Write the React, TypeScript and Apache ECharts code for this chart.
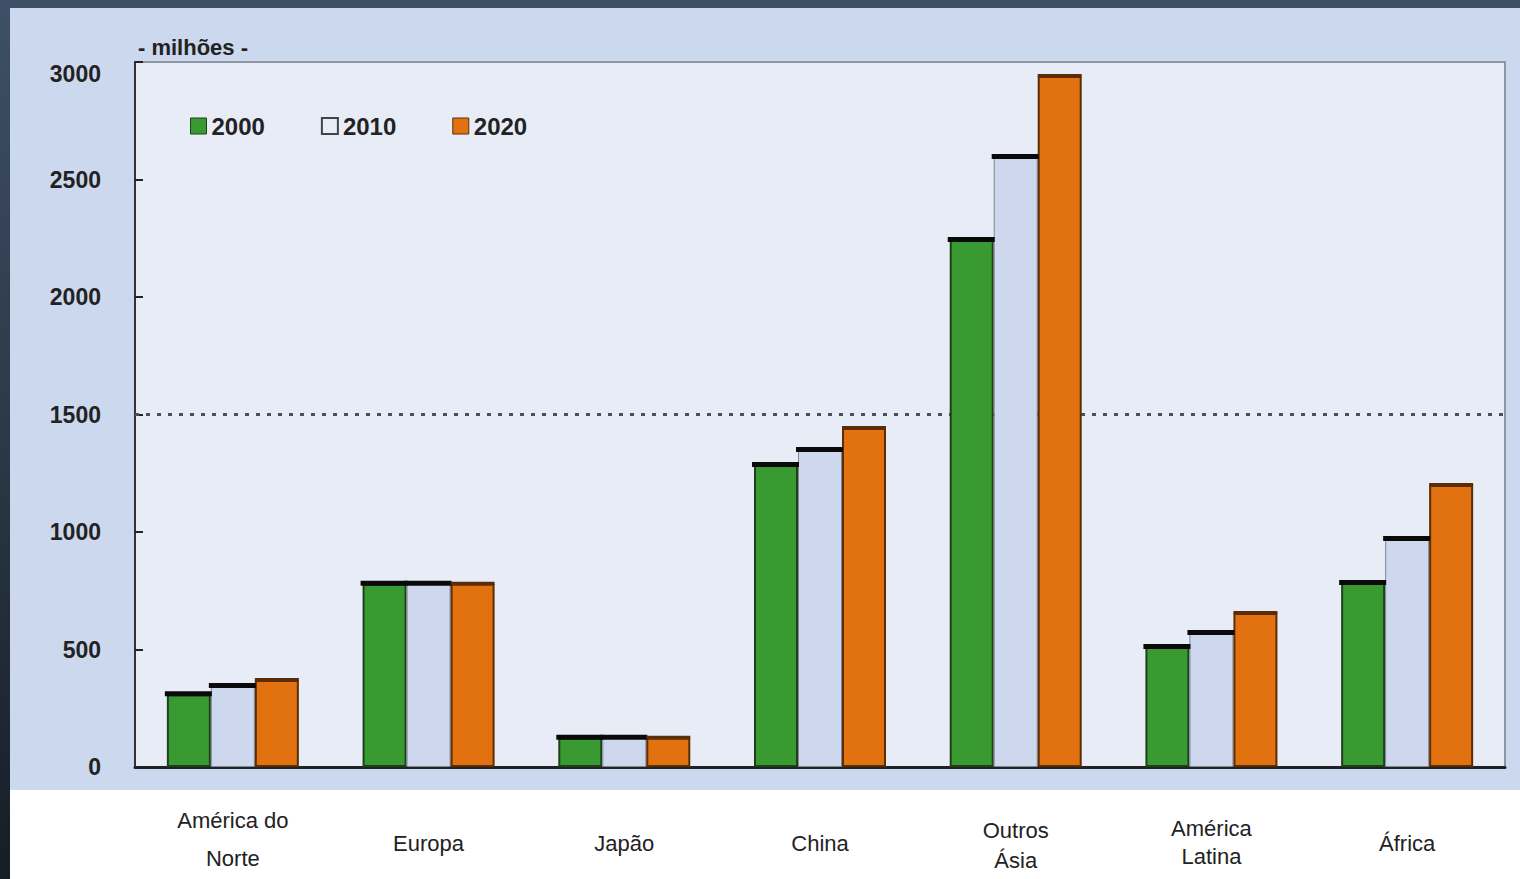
import React, { useEffect, useRef } from "react";
import * as echarts from "echarts";

const categories = ["América do\nNorte", "Europa", "Japão", "China", "Outros\nÁsia", "América\nLatina", "África"];
const labelLineHeights = [38, 30, 30, 30, 30, 28, 30];
const labelPadTop = [0, 27, 27, 27, 14, 13, 27];
const years = ["2000", "2010", "2020"];
const v2000 = [310, 780, 125, 1285, 2243, 511, 783];
const v2010 = [345, 780, 125, 1349, 2596, 570, 970];
const v2020 = [370, 780, 125, 1443, 2940, 655, 1200];
const yTicks = { min: 0, max: 3000, interval: 500 };
const refLine = 1500;

const FONT = "Arial, 'Liberation Sans', sans-serif";

export default function App() {
  const ref = useRef<HTMLDivElement>(null);
  useEffect(() => {
    const chart = echarts.init(ref.current!, null, { renderer: "svg" });
    const BW = 44;
    const capData = categories.map((_, i) => [i, v2000[i], v2010[i], v2020[i]]);
    const fills = ["#3a9a32", "#cdd8ef", "#e2720f"];
    const borders = ["#1e3f18", "#7d8796", "#5c2d05"];
    const series: any[] = [v2000, v2010, v2020].map((d, j) => ({
      name: years[j],
      type: "bar",
      data: d,
      barWidth: BW,
      barGap: "0%",
      z: 2,
      itemStyle: { color: fills[j], borderColor: borders[j], borderWidth: j === 1 ? 1 : 2 },
    }));
    series.push({
      name: "ref",
      type: "line",
      data: [],
      z: 1,
      markLine: {
        z: 1,
        silent: true,
        symbol: ["none", "none"],
        label: { show: false },
        lineStyle: { type: [4, 7], color: "#4a4f58", width: 3 },
        data: [{ yAxis: refLine }],
      },
    });
    series.push({
      name: "caps",
      type: "custom",
      z: 3,
      data: capData,
      encode: { x: 0, y: [1, 2, 3] },
      renderItem: (params: any, api: any) => {
        const idx = api.value(0);
        const children: any[] = [];
        for (let j = 0; j < 3; j++) {
          const v = api.value(j + 1);
          const p = api.coord([idx, v]);
          const cx = p[0] + (j - 1) * BW;
          if (j < 2) {
            children.push({
              type: "rect",
              shape: { x: cx - BW / 2 - 2, y: p[1] - 3, width: BW + 3, height: 5 },
              style: { fill: "#0a0a0a" },
            });
          } else {
            children.push({
              type: "rect",
              shape: { x: cx - BW / 2, y: p[1] - 2, width: BW, height: 3 },
              style: { fill: "#5a2c08" },
            });
          }
        }
        return { type: "group", children };
      },
    });

    chart.setOption({
      animation: false,
      backgroundColor: "transparent",
      textStyle: { fontFamily: FONT },
      graphic: [
        {
          type: "text",
          left: 138,
          top: 36,
          style: { text: "- milhões -", font: `bold 22px ${FONT}`, fill: "#222" },
        },
      ],
      legend: {
        left: 185,
        top: 109,
        itemWidth: 16,
        itemHeight: 16,
        itemGap: 56,
        textStyle: { fontSize: 24, fontWeight: "bold", color: "#222", fontFamily: FONT },
        data: [
          { name: "2000", icon: "rect", itemStyle: { color: fills[0], borderColor: "#1e3f18", borderWidth: 1 } },
          { name: "2010", icon: "rect", itemStyle: { color: "#e7ecf7", borderColor: "#444", borderWidth: 2 } },
          { name: "2020", icon: "rect", itemStyle: { color: fills[2], borderColor: "#5c2d05", borderWidth: 1 } },
        ],
      },
      grid: {
        left: 135,
        right: 15,
        top: 62,
        bottom: 112,
        show: true,
        backgroundColor: "#e7ecf7",
        borderColor: "#8d95a2",
        borderWidth: 2,
        containLabel: false,
        outerBoundsMode: "none",
      },
      xAxis: {
        type: "category",
        data: categories.map((c, i) => ({
          value: c,
          textStyle: { lineHeight: labelLineHeights[i], padding: [labelPadTop[i], 0, 0, 0] },
        })),
        axisTick: { show: false },
        axisLine: { lineStyle: { color: "#222", width: 3 } },
        axisLabel: {
          margin: 34,
          fontSize: 22,
          color: "#222",
          fontFamily: FONT,
          interval: 0,
        },
      },
      yAxis: {
        type: "value",
        min: yTicks.min,
        max: yTicks.max,
        interval: yTicks.interval,
        splitLine: { show: false },
        axisLine: { show: true, lineStyle: { color: "#333", width: 2 } },
        axisTick: { show: true, inside: true, length: 8, lineStyle: { color: "#222", width: 2 } },
        axisLabel: {
          fontSize: 23,
          fontWeight: "bold",
          color: "#222",
          margin: 34,
          fontFamily: FONT,
          formatter: (v: number) => (v === yTicks.max ? `{top|${v}}` : String(v)),
          rich: {
            top: { fontSize: 23, fontWeight: "bold", color: "#222", fontFamily: FONT, padding: [24, 0, 0, 0] },
          },
        },
      },
      series,
    });
    return () => chart.dispose();
  }, []);

  return (
    <div
      style={{
        position: "absolute",
        left: 0,
        top: 0,
        width: 1520,
        height: 879,
        background: "linear-gradient(180deg, #3e5065 0%, #2b3847 50%, #161d26 100%)",
        overflow: "hidden",
      }}
    >
      <div style={{ position: "absolute", left: 10, top: 8, width: 1510, height: 782, background: "#ccd8ee" }} />
      <div style={{ position: "absolute", left: 10, top: 790, width: 1510, height: 89, background: "#ffffff" }} />
      <div ref={ref} style={{ position: "absolute", left: 0, top: 0, width: 1520, height: 879 }} />
    </div>
  );
}
